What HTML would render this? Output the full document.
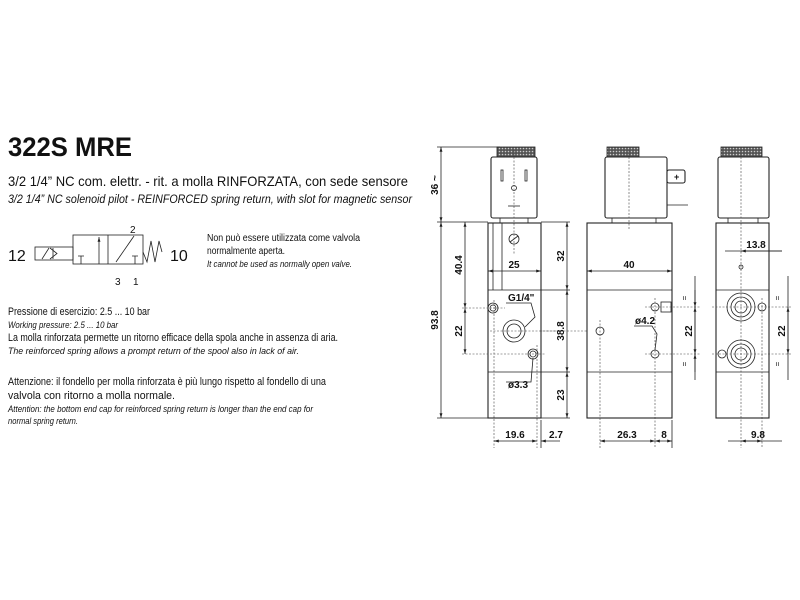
<!DOCTYPE html>
<html><head><meta charset="utf-8"><style>
html,body{margin:0;padding:0;background:#fff;width:800px;height:600px;overflow:hidden}
svg{display:block}
text{font-family:"Liberation Sans",sans-serif;fill:#111}
.d{stroke:#222;stroke-width:0.8;fill:none}
.b{stroke:#222;stroke-width:1.1;fill:#fff}
.c{stroke:#444;stroke-width:0.6;fill:none;stroke-dasharray:2,1.5}
.dm{font-size:10px;font-weight:bold}
</style></head><body>
<svg width="800" height="600" viewBox="0 0 800 600">
<defs>
<marker id="a" viewBox="0 0 10 10" refX="10" refY="5" markerWidth="6" markerHeight="6" orient="auto-start-reverse"><path d="M0,2 L10,5 L0,8 z" fill="#222"/></marker>
<pattern id="k" width="3" height="3" patternUnits="userSpaceOnUse"><rect width="3" height="3" fill="#555"/><circle cx="1.5" cy="1.5" r="0.8" fill="#ccc"/></pattern>
</defs>

<!-- Left text -->
<text x="8" y="156" font-size="27" font-weight="bold" textLength="124" lengthAdjust="spacingAndGlyphs">322S MRE</text>
<text x="8" y="186" font-size="14" textLength="400" lengthAdjust="spacingAndGlyphs">3/2 1/4” NC com. elettr. - rit. a molla RINFORZATA, con sede sensore</text>
<text x="8" y="203" font-size="12" font-style="italic" textLength="404" lengthAdjust="spacingAndGlyphs">3/2 1/4” NC solenoid pilot - REINFORCED spring return, with slot for magnetic sensor</text>

<!-- symbol -->
<text x="8" y="261" font-size="16">12</text>
<rect x="35" y="247" width="38" height="13" class="d"/>
<line x1="42" y1="259" x2="49" y2="248" class="d"/>
<path d="M50,248 L57,253.5 L50,259" class="d"/>
<line x1="53" y1="248" x2="53" y2="259" class="d"/>
<rect x="73" y="235" width="70" height="29" class="d"/>
<line x1="108" y1="235" x2="108" y2="264" class="d"/>
<line x1="99" y1="264" x2="99" y2="237" class="d" marker-end="url(#a)"/>
<path d="M81,264 V256 M78,256 H84" class="d"/>
<path d="M135,264 V256 M132,256 H138" class="d"/>
<line x1="116" y1="262" x2="134" y2="236" class="d"/>
<path d="M143,252 L147,262 L151,241 L155,262 L159,241 L162,252" class="d"/>
<text x="130" y="233" font-size="10">2</text>
<text x="115" y="285" font-size="10">3</text>
<text x="133" y="285" font-size="10">1</text>
<text x="170" y="261" font-size="16">10</text>
<text x="207" y="241" font-size="10" textLength="153" lengthAdjust="spacingAndGlyphs">Non può essere utilizzata come valvola</text>
<text x="207" y="254" font-size="10" textLength="78" lengthAdjust="spacingAndGlyphs">normalmente aperta.</text>
<text x="207" y="267" font-size="9" font-style="italic" textLength="145" lengthAdjust="spacingAndGlyphs">It cannot be used as normally open valve.</text>

<text x="8" y="315" font-size="11" textLength="142" lengthAdjust="spacingAndGlyphs">Pressione di esercizio: 2.5 ... 10 bar</text>
<text x="8" y="328" font-size="9.5" font-style="italic" textLength="110" lengthAdjust="spacingAndGlyphs">Working pressure: 2.5 ... 10 bar</text>
<text x="8" y="341" font-size="11" textLength="330" lengthAdjust="spacingAndGlyphs">La molla rinforzata permette un ritorno efficace della spola anche in assenza di aria.</text>
<text x="8" y="354" font-size="9.5" font-style="italic" textLength="291" lengthAdjust="spacingAndGlyphs">The reinforced spring allows a prompt return of the spool also in lack of air.</text>
<text x="8" y="385" font-size="11" textLength="318" lengthAdjust="spacingAndGlyphs">Attenzione: il fondello per molla rinforzata è più lungo rispetto al fondello di una</text>
<text x="8" y="399" font-size="11" textLength="167" lengthAdjust="spacingAndGlyphs">valvola con ritorno a molla normale.</text>
<text x="8" y="412" font-size="9.5" font-style="italic" textLength="305" lengthAdjust="spacingAndGlyphs">Attention: the bottom end cap for reinforced spring return is longer than the end cap for</text>
<text x="8" y="424" font-size="9.5" font-style="italic" textLength="70" lengthAdjust="spacingAndGlyphs">normal spring return.</text>

<!-- VIEW 1 -->
<rect x="497" y="147" width="38" height="10" fill="url(#k)" stroke="#222" stroke-width="0.8"/>
<rect x="491" y="157" width="46" height="61" rx="2" class="b"/>
<rect x="501" y="170" width="2" height="11" class="d"/>
<rect x="525" y="170" width="2" height="11" class="d"/>
<circle cx="514" cy="188" r="2.5" class="d"/>
<line x1="508" y1="206" x2="520" y2="206" class="d"/>
<rect x="500" y="218" width="28" height="5" class="d"/>
<rect x="488" y="223" width="53" height="195" class="b"/>
<line x1="488" y1="290" x2="541" y2="290" class="d"/>
<line x1="488" y1="372" x2="541" y2="372" class="d"/>
<line x1="493" y1="223" x2="493" y2="290" class="d"/>
<line x1="502" y1="223" x2="502" y2="290" class="d"/>
<circle cx="514" cy="239" r="5" class="d"/><line x1="510" y1="242" x2="518" y2="236" class="d"/>
<circle cx="493" cy="308" r="5" class="d"/><circle cx="493" cy="308" r="3" class="d"/>
<circle cx="514" cy="331" r="11" class="d"/><circle cx="514" cy="331" r="7" class="d"/>
<circle cx="533" cy="354" r="5" class="d"/><circle cx="533" cy="354" r="3" class="d"/>
<path d="M525,327 L535,317 L531,303 L506,303" class="d"/>
<text x="508" y="301" class="dm">G1/4"</text>
<path d="M533,358 L531,382 L506,382" class="d"/>
<text x="508" y="388" class="dm">ø3.3</text>
<line x1="514" y1="150" x2="514" y2="255" class="c"/>
<line x1="462" y1="308" x2="505" y2="308" class="c"/>
<line x1="462" y1="354" x2="545" y2="354" class="c"/>
<line x1="494" y1="300" x2="494" y2="448" class="c"/>
<line x1="537" y1="345" x2="537" y2="448" class="c"/>
<line x1="541" y1="420" x2="541" y2="448" class="d"/>
<line x1="490" y1="331" x2="600" y2="331" class="c"/>
<line x1="540" y1="331" x2="560" y2="331" class="c"/>
<!-- dims view1 -->
<line x1="437" y1="147" x2="500" y2="147" class="d"/>
<line x1="437" y1="222" x2="488" y2="222" class="d"/>
<line x1="437" y1="418" x2="488" y2="418" class="d"/>
<line x1="441" y1="147" x2="441" y2="222" class="d" marker-start="url(#a)" marker-end="url(#a)"/>
<line x1="441" y1="222" x2="441" y2="418" class="d" marker-start="url(#a)" marker-end="url(#a)"/>
<text transform="translate(438,185) rotate(-90)" class="dm" text-anchor="middle">36 ~</text>
<text transform="translate(438,320) rotate(-90)" class="dm" text-anchor="middle">93.8</text>
<line x1="465" y1="222" x2="465" y2="308" class="d" marker-start="url(#a)" marker-end="url(#a)"/>
<line x1="465" y1="308" x2="465" y2="354" class="d" marker-start="url(#a)" marker-end="url(#a)"/>
<text transform="translate(462,265) rotate(-90)" class="dm" text-anchor="middle">40.4</text>
<text transform="translate(462,331) rotate(-90)" class="dm" text-anchor="middle">22</text>
<line x1="488" y1="271" x2="541" y2="271" class="d" marker-start="url(#a)" marker-end="url(#a)"/>
<text x="514" y="268" class="dm" text-anchor="middle">25</text>
<line x1="541" y1="222" x2="570" y2="222" class="d"/>
<line x1="541" y1="290" x2="570" y2="290" class="d"/>
<line x1="541" y1="372" x2="570" y2="372" class="d"/>
<line x1="541" y1="418" x2="570" y2="418" class="d"/>
<line x1="567" y1="222" x2="567" y2="290" class="d" marker-start="url(#a)" marker-end="url(#a)"/>
<line x1="567" y1="290" x2="567" y2="372" class="d" marker-start="url(#a)" marker-end="url(#a)"/>
<line x1="567" y1="372" x2="567" y2="418" class="d" marker-start="url(#a)" marker-end="url(#a)"/>
<text transform="translate(564,256) rotate(-90)" class="dm" text-anchor="middle">32</text>
<text transform="translate(564,331) rotate(-90)" class="dm" text-anchor="middle">38.8</text>
<text transform="translate(564,395) rotate(-90)" class="dm" text-anchor="middle">23</text>
<line x1="494" y1="441" x2="537" y2="441" class="d" marker-start="url(#a)" marker-end="url(#a)"/>
<line x1="541" y1="441" x2="560" y2="441" class="d" marker-start="url(#a)"/>
<text x="515" y="438" class="dm" text-anchor="middle">19.6</text>
<text x="556" y="438" class="dm" text-anchor="middle">2.7</text>

<!-- VIEW 2 -->
<rect x="607" y="147" width="32" height="10" fill="url(#k)" stroke="#222" stroke-width="0.8"/>
<rect x="605" y="157" width="62" height="61" rx="2" class="b"/>
<rect x="667" y="170" width="18" height="13" rx="2" class="b"/>
<text x="674" y="180" font-size="9" font-weight="bold">+</text>
<line x1="667" y1="205" x2="688" y2="205" class="d"/>
<rect x="612" y="218" width="44" height="5" class="d"/>
<rect x="587" y="223" width="85" height="195" class="b"/>
<line x1="587" y1="290" x2="672" y2="290" class="d"/>
<line x1="587" y1="372" x2="672" y2="372" class="d"/>
<line x1="629" y1="150" x2="629" y2="230" class="c"/>
<circle cx="655" cy="307" r="4" class="d"/>
<rect x="661" y="302" width="10" height="10" class="d"/>
<circle cx="600" cy="331" r="4" class="d"/>
<circle cx="655" cy="354" r="4" class="d"/>
<path d="M655,350 L657,334 L652,326 L634,326" class="d"/>
<text x="635" y="324" class="dm">ø4.2</text>
<line x1="600" y1="320" x2="600" y2="448" class="c"/>
<line x1="655" y1="298" x2="655" y2="448" class="c"/>
<line x1="645" y1="307" x2="700" y2="307" class="c"/>
<line x1="645" y1="354" x2="700" y2="354" class="c"/>
<line x1="672" y1="420" x2="672" y2="448" class="d"/>
<line x1="587" y1="271" x2="672" y2="271" class="d" marker-start="url(#a)" marker-end="url(#a)"/>
<text x="629" y="268" class="dm" text-anchor="middle">40</text>
<line x1="695" y1="276" x2="695" y2="380" class="d"/>
<line x1="695" y1="290" x2="695" y2="307" class="d" marker-end="url(#a)"/>
<line x1="695" y1="307" x2="695" y2="354" class="d" marker-start="url(#a)" marker-end="url(#a)"/>
<line x1="695" y1="372" x2="695" y2="354" class="d" marker-end="url(#a)"/>
<text transform="translate(692,331) rotate(-90)" class="dm" text-anchor="middle">22</text>
<text transform="translate(687,298) rotate(-90)" font-size="8" text-anchor="middle">=</text>
<text transform="translate(687,364) rotate(-90)" font-size="8" text-anchor="middle">=</text>
<line x1="600" y1="441" x2="655" y2="441" class="d" marker-start="url(#a)" marker-end="url(#a)"/>
<line x1="655" y1="441" x2="672" y2="441" class="d" marker-start="url(#a)" marker-end="url(#a)"/>
<text x="627" y="438" class="dm" text-anchor="middle">26.3</text>
<text x="664" y="438" class="dm" text-anchor="middle">8</text>

<!-- VIEW 3 -->
<rect x="721" y="147" width="41" height="10" fill="url(#k)" stroke="#222" stroke-width="0.8"/>
<rect x="718" y="157" width="51" height="61" rx="2" class="b"/>
<rect x="728" y="218" width="30" height="5" class="d"/>
<rect x="716" y="223" width="53" height="195" class="b"/>
<line x1="716" y1="290" x2="769" y2="290" class="d"/>
<line x1="716" y1="372" x2="769" y2="372" class="d"/>
<line x1="741" y1="150" x2="741" y2="448" class="c"/>
<circle cx="741" cy="267" r="2" class="d"/>
<circle cx="741" cy="307" r="14" class="d"/><circle cx="741" cy="307" r="10" class="d"/><circle cx="741" cy="307" r="6" class="d"/>
<circle cx="741" cy="354" r="14" class="d"/><circle cx="741" cy="354" r="10" class="d"/><circle cx="741" cy="354" r="6" class="d"/>
<circle cx="762" cy="307" r="4" class="d"/>
<circle cx="722" cy="354" r="4" class="d"/>
<line x1="762" y1="298" x2="762" y2="448" class="c"/>
<line x1="712" y1="307" x2="792" y2="307" class="c"/>
<line x1="712" y1="354" x2="792" y2="354" class="c"/>
<line x1="725" y1="251" x2="782" y2="251" class="d"/>
<line x1="741" y1="251" x2="782" y2="251" class="d" marker-start="url(#a)"/>
<text x="756" y="248" class="dm" text-anchor="middle">13.8</text>
<line x1="788" y1="276" x2="788" y2="380" class="d"/>
<line x1="788" y1="307" x2="788" y2="354" class="d" marker-start="url(#a)" marker-end="url(#a)"/>
<text transform="translate(785,331) rotate(-90)" class="dm" text-anchor="middle">22</text>
<text transform="translate(780,298) rotate(-90)" font-size="8" text-anchor="middle">=</text>
<text transform="translate(780,364) rotate(-90)" font-size="8" text-anchor="middle">=</text>
<line x1="728" y1="441" x2="782" y2="441" class="d"/>
<line x1="741" y1="441" x2="762" y2="441" class="d" marker-start="url(#a)" marker-end="url(#a)"/>
<text x="758" y="438" class="dm" text-anchor="middle">9.8</text>
</svg>
</body></html>
